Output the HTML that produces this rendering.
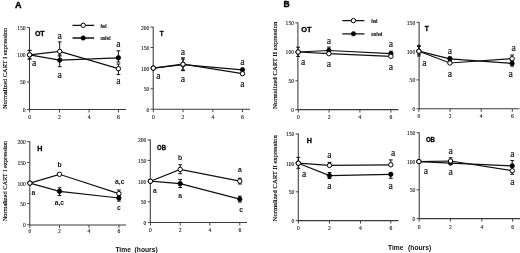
<!DOCTYPE html><html><head><meta charset="utf-8"><style>html,body{margin:0;padding:0;background:#fff;}svg{display:block;will-change:transform;}</style></head><body>
<svg width="520" height="253" viewBox="0 0 520 253">
<rect width="520" height="253" fill="#fff"/>
<g><path d="M29.5 27.2V109.5H126" fill="none" stroke="#3a3a3a" stroke-width="1.05"/><path d="M26.9 27.4H29.5" stroke="#444" stroke-width="1"/><text x="25.6" y="29.8" font-family='"Liberation Serif", serif' font-size="5.6" text-anchor="end" fill="#222" stroke="#222" stroke-width="0.12">150</text><path d="M26.9 54.7H29.5" stroke="#444" stroke-width="1"/><text x="25.6" y="57.1" font-family='"Liberation Serif", serif' font-size="5.6" text-anchor="end" fill="#222" stroke="#222" stroke-width="0.12">100</text><path d="M26.9 82H29.5" stroke="#444" stroke-width="1"/><text x="25.6" y="84.4" font-family='"Liberation Serif", serif' font-size="5.6" text-anchor="end" fill="#222" stroke="#222" stroke-width="0.12">50</text><path d="M26.9 109.4H29.5" stroke="#444" stroke-width="1"/><text x="25.6" y="111.8" font-family='"Liberation Serif", serif' font-size="5.6" text-anchor="end" fill="#222" stroke="#222" stroke-width="0.12">0</text><path d="M29.6 109.5V112.5" stroke="#444" stroke-width="1"/><text x="29.6" y="119.2" font-family='"Liberation Serif", serif' font-size="5.6" text-anchor="middle" fill="#222" stroke="#222" stroke-width="0.12">0</text><path d="M59.5 109.5V112.5" stroke="#444" stroke-width="1"/><text x="59.5" y="119.2" font-family='"Liberation Serif", serif' font-size="5.6" text-anchor="middle" fill="#222" stroke="#222" stroke-width="0.12">2</text><path d="M89.1 109.5V112.5" stroke="#444" stroke-width="1"/><text x="89.1" y="119.2" font-family='"Liberation Serif", serif' font-size="5.6" text-anchor="middle" fill="#222" stroke="#222" stroke-width="0.12">4</text><path d="M118.4 109.5V112.5" stroke="#444" stroke-width="1"/><text x="118.4" y="119.2" font-family='"Liberation Serif", serif' font-size="5.6" text-anchor="middle" fill="#222" stroke="#222" stroke-width="0.12">6</text><path d="M29.6 50.4V59M27.7 50.4H31.5M27.7 59H31.5" stroke="#111" stroke-width="1"/><path d="M59.7 41.9V56M57.8 41.9H61.6M57.8 56H61.6" stroke="#111" stroke-width="1"/><path d="M118.4 64V74.6M116.5 64H120.3M116.5 74.6H120.3" stroke="#111" stroke-width="1"/><path d="M29.6 50.4V59M27.7 50.4H31.5M27.7 59H31.5" stroke="#111" stroke-width="1"/><path d="M59.7 55V66.7M57.8 55H61.6M57.8 66.7H61.6" stroke="#111" stroke-width="1"/><path d="M118.4 50.8V62M116.5 50.8H120.3M116.5 62H120.3" stroke="#111" stroke-width="1"/><path d="M29.6 54.8 L59.7 60.1 L118.4 57.8" fill="none" stroke="#111" stroke-width="1.2"/><path d="M29.6 54.8 L59.7 51.4 L118.4 68.7" fill="none" stroke="#111" stroke-width="1.2"/><circle cx="29.6" cy="54.8" r="2.2" fill="#000" stroke="#000" stroke-width="0.8"/><circle cx="59.7" cy="60.1" r="2.2" fill="#000" stroke="#000" stroke-width="0.8"/><circle cx="118.4" cy="57.8" r="2.2" fill="#000" stroke="#000" stroke-width="0.8"/><circle cx="29.6" cy="54.8" r="2.2" fill="#fff" stroke="#000" stroke-width="1"/><circle cx="59.7" cy="51.4" r="2.2" fill="#fff" stroke="#000" stroke-width="1"/><circle cx="118.4" cy="68.7" r="2.2" fill="#fff" stroke="#000" stroke-width="1"/><text x="34.2" y="66.4" font-family='"Liberation Serif", serif' font-size="9.8" font-weight="normal" text-anchor="middle" fill="#222" stroke="#222" stroke-width="0.18">a</text><text x="59.8" y="38.8" font-family='"Liberation Serif", serif' font-size="9.8" font-weight="normal" text-anchor="middle" fill="#222" stroke="#222" stroke-width="0.18">a</text><text x="59.8" y="77.7" font-family='"Liberation Serif", serif' font-size="9.8" font-weight="normal" text-anchor="middle" fill="#222" stroke="#222" stroke-width="0.18">a</text><text x="118.4" y="47.3" font-family='"Liberation Serif", serif' font-size="9.8" font-weight="normal" text-anchor="middle" fill="#222" stroke="#222" stroke-width="0.18">a</text><text x="118.4" y="84" font-family='"Liberation Serif", serif' font-size="9.8" font-weight="normal" text-anchor="middle" fill="#222" stroke="#222" stroke-width="0.18">a</text><text x="34.9" y="36.1" font-family='"Liberation Sans", sans-serif' font-weight="bold" font-size="7" fill="#000" stroke="#000" stroke-width="0.3">OT</text></g>
<g><path d="M153.2 26.8V109.2H250" fill="none" stroke="#3a3a3a" stroke-width="1.05"/><path d="M150.6 27.1H153.2" stroke="#444" stroke-width="1"/><text x="149.3" y="29.5" font-family='"Liberation Serif", serif' font-size="5.6" text-anchor="end" fill="#222" stroke="#222" stroke-width="0.12">200</text><path d="M150.6 47.5H153.2" stroke="#444" stroke-width="1"/><text x="149.3" y="49.9" font-family='"Liberation Serif", serif' font-size="5.6" text-anchor="end" fill="#222" stroke="#222" stroke-width="0.12">150</text><path d="M150.6 68.1H153.2" stroke="#444" stroke-width="1"/><text x="149.3" y="70.5" font-family='"Liberation Serif", serif' font-size="5.6" text-anchor="end" fill="#222" stroke="#222" stroke-width="0.12">100</text><path d="M150.6 88.8H153.2" stroke="#444" stroke-width="1"/><text x="149.3" y="91.2" font-family='"Liberation Serif", serif' font-size="5.6" text-anchor="end" fill="#222" stroke="#222" stroke-width="0.12">50</text><path d="M150.6 109.2H153.2" stroke="#444" stroke-width="1"/><text x="149.3" y="111.6" font-family='"Liberation Serif", serif' font-size="5.6" text-anchor="end" fill="#222" stroke="#222" stroke-width="0.12">0</text><path d="M153.3 109.2V112.2" stroke="#444" stroke-width="1"/><text x="153.3" y="119" font-family='"Liberation Serif", serif' font-size="5.6" text-anchor="middle" fill="#222" stroke="#222" stroke-width="0.12">0</text><path d="M183 109.2V112.2" stroke="#444" stroke-width="1"/><text x="183" y="119" font-family='"Liberation Serif", serif' font-size="5.6" text-anchor="middle" fill="#222" stroke="#222" stroke-width="0.12">2</text><path d="M212.9 109.2V112.2" stroke="#444" stroke-width="1"/><text x="212.9" y="119" font-family='"Liberation Serif", serif' font-size="5.6" text-anchor="middle" fill="#222" stroke="#222" stroke-width="0.12">4</text><path d="M242.5 109.2V112.2" stroke="#444" stroke-width="1"/><text x="242.5" y="119" font-family='"Liberation Serif", serif' font-size="5.6" text-anchor="middle" fill="#222" stroke="#222" stroke-width="0.12">6</text><path d="M183 57.8V70.7M181.1 57.8H184.9M181.1 70.7H184.9" stroke="#111" stroke-width="1"/><path d="M183 59V70M181.1 59H184.9M181.1 70H184.9" stroke="#111" stroke-width="1"/><path d="M153.3 68.1 L183 64.6 L242.5 69.8" fill="none" stroke="#111" stroke-width="1.2"/><path d="M153.3 68.1 L183 64.2 L242.5 73.7" fill="none" stroke="#111" stroke-width="1.2"/><circle cx="153.3" cy="68.1" r="2.2" fill="#000" stroke="#000" stroke-width="0.8"/><circle cx="183" cy="64.6" r="2.2" fill="#000" stroke="#000" stroke-width="0.8"/><circle cx="242.5" cy="69.8" r="2.2" fill="#000" stroke="#000" stroke-width="0.8"/><circle cx="153.3" cy="68.1" r="2.2" fill="#fff" stroke="#000" stroke-width="1"/><circle cx="183" cy="64.2" r="2.2" fill="#fff" stroke="#000" stroke-width="1"/><circle cx="242.5" cy="73.7" r="2.2" fill="#fff" stroke="#000" stroke-width="1"/><text x="158.4" y="78.6" font-family='"Liberation Serif", serif' font-size="9.8" font-weight="normal" text-anchor="middle" fill="#222" stroke="#222" stroke-width="0.18">a</text><text x="183" y="54.9" font-family='"Liberation Serif", serif' font-size="9.8" font-weight="normal" text-anchor="middle" fill="#222" stroke="#222" stroke-width="0.18">a</text><text x="183" y="82" font-family='"Liberation Serif", serif' font-size="9.8" font-weight="normal" text-anchor="middle" fill="#222" stroke="#222" stroke-width="0.18">a</text><text x="242.5" y="64.9" font-family='"Liberation Serif", serif' font-size="9.8" font-weight="normal" text-anchor="middle" fill="#222" stroke="#222" stroke-width="0.18">a</text><text x="242.5" y="86.5" font-family='"Liberation Serif", serif' font-size="9.8" font-weight="normal" text-anchor="middle" fill="#222" stroke="#222" stroke-width="0.18">a</text><text x="159.7" y="35.7" font-family='"Liberation Sans", sans-serif' font-weight="bold" font-size="6.3" fill="#000" stroke="#000" stroke-width="0.3">T</text></g>
<g><path d="M29.8 141.4V225H126" fill="none" stroke="#3a3a3a" stroke-width="1.05"/><path d="M27.2 141.6H29.8" stroke="#444" stroke-width="1"/><text x="25.9" y="144" font-family='"Liberation Serif", serif' font-size="5.6" text-anchor="end" fill="#222" stroke="#222" stroke-width="0.12">200</text><path d="M27.2 162.4H29.8" stroke="#444" stroke-width="1"/><text x="25.9" y="164.8" font-family='"Liberation Serif", serif' font-size="5.6" text-anchor="end" fill="#222" stroke="#222" stroke-width="0.12">150</text><path d="M27.2 183.1H29.8" stroke="#444" stroke-width="1"/><text x="25.9" y="185.5" font-family='"Liberation Serif", serif' font-size="5.6" text-anchor="end" fill="#222" stroke="#222" stroke-width="0.12">100</text><path d="M27.2 203.5H29.8" stroke="#444" stroke-width="1"/><text x="25.9" y="205.9" font-family='"Liberation Serif", serif' font-size="5.6" text-anchor="end" fill="#222" stroke="#222" stroke-width="0.12">50</text><path d="M27.2 224.8H29.8" stroke="#444" stroke-width="1"/><text x="25.9" y="227.2" font-family='"Liberation Serif", serif' font-size="5.6" text-anchor="end" fill="#222" stroke="#222" stroke-width="0.12">0</text><path d="M29.9 225V228" stroke="#444" stroke-width="1"/><text x="29.9" y="233.4" font-family='"Liberation Serif", serif' font-size="5.6" text-anchor="middle" fill="#222" stroke="#222" stroke-width="0.12">0</text><path d="M59.5 225V228" stroke="#444" stroke-width="1"/><text x="59.5" y="233.4" font-family='"Liberation Serif", serif' font-size="5.6" text-anchor="middle" fill="#222" stroke="#222" stroke-width="0.12">2</text><path d="M89 225V228" stroke="#444" stroke-width="1"/><text x="89" y="233.4" font-family='"Liberation Serif", serif' font-size="5.6" text-anchor="middle" fill="#222" stroke="#222" stroke-width="0.12">4</text><path d="M118.9 225V228" stroke="#444" stroke-width="1"/><text x="118.9" y="233.4" font-family='"Liberation Serif", serif' font-size="5.6" text-anchor="middle" fill="#222" stroke="#222" stroke-width="0.12">6</text><path d="M118.9 190V196M117 190H120.8M117 196H120.8" stroke="#111" stroke-width="1"/><path d="M59.5 187.8V195.6M57.6 187.8H61.4M57.6 195.6H61.4" stroke="#111" stroke-width="1"/><path d="M118.9 195V201.1M117 195H120.8M117 201.1H120.8" stroke="#111" stroke-width="1"/><path d="M29.9 183.1 L59.5 191.3 L118.9 198" fill="none" stroke="#111" stroke-width="1.2"/><path d="M29.9 183.1 L59.5 174.3 L118.9 193.6" fill="none" stroke="#111" stroke-width="1.2"/><circle cx="29.9" cy="183.1" r="2.2" fill="#000" stroke="#000" stroke-width="0.8"/><circle cx="59.5" cy="191.3" r="2.2" fill="#000" stroke="#000" stroke-width="0.8"/><circle cx="118.9" cy="198" r="2.2" fill="#000" stroke="#000" stroke-width="0.8"/><circle cx="29.9" cy="183.1" r="2.2" fill="#fff" stroke="#000" stroke-width="1"/><circle cx="59.5" cy="174.3" r="2.2" fill="#fff" stroke="#000" stroke-width="1"/><circle cx="118.9" cy="193.6" r="2.2" fill="#fff" stroke="#000" stroke-width="1"/><text x="33.3" y="194.6" font-family='"Liberation Sans", sans-serif' font-size="6.8" font-weight="bold" text-anchor="middle" fill="#111">a</text><text x="59.5" y="167.2" font-family='"Liberation Sans", sans-serif' font-size="6.8" font-weight="bold" text-anchor="middle" fill="#111">b</text><text x="59.4" y="205.3" font-family='"Liberation Sans", sans-serif' font-size="6.8" font-weight="bold" text-anchor="middle" fill="#111">a,c</text><text x="119.8" y="184.1" font-family='"Liberation Sans", sans-serif' font-size="6.8" font-weight="bold" text-anchor="middle" fill="#111">a,c</text><text x="118.9" y="209.9" font-family='"Liberation Sans", sans-serif' font-size="6.8" font-weight="bold" text-anchor="middle" fill="#111">c</text><text x="37.2" y="151.2" font-family='"Liberation Sans", sans-serif' font-weight="bold" font-size="7.2" fill="#000" stroke="#000" stroke-width="0.3">H</text></g>
<g><path d="M150.3 139.6V222.5H247" fill="none" stroke="#3a3a3a" stroke-width="1.05"/><path d="M147.7 140H150.3" stroke="#444" stroke-width="1"/><text x="146.4" y="142.4" font-family='"Liberation Serif", serif' font-size="5.6" text-anchor="end" fill="#222" stroke="#222" stroke-width="0.12">200</text><path d="M147.7 160.4H150.3" stroke="#444" stroke-width="1"/><text x="146.4" y="162.8" font-family='"Liberation Serif", serif' font-size="5.6" text-anchor="end" fill="#222" stroke="#222" stroke-width="0.12">150</text><path d="M147.7 181.2H150.3" stroke="#444" stroke-width="1"/><text x="146.4" y="183.6" font-family='"Liberation Serif", serif' font-size="5.6" text-anchor="end" fill="#222" stroke="#222" stroke-width="0.12">100</text><path d="M147.7 201.8H150.3" stroke="#444" stroke-width="1"/><text x="146.4" y="204.2" font-family='"Liberation Serif", serif' font-size="5.6" text-anchor="end" fill="#222" stroke="#222" stroke-width="0.12">50</text><path d="M147.7 222.4H150.3" stroke="#444" stroke-width="1"/><text x="146.4" y="224.8" font-family='"Liberation Serif", serif' font-size="5.6" text-anchor="end" fill="#222" stroke="#222" stroke-width="0.12">0</text><path d="M150.4 222.5V225.5" stroke="#444" stroke-width="1"/><text x="150.4" y="231.8" font-family='"Liberation Serif", serif' font-size="5.6" text-anchor="middle" fill="#222" stroke="#222" stroke-width="0.12">0</text><path d="M180.2 222.5V225.5" stroke="#444" stroke-width="1"/><text x="180.2" y="231.8" font-family='"Liberation Serif", serif' font-size="5.6" text-anchor="middle" fill="#222" stroke="#222" stroke-width="0.12">2</text><path d="M209.8 222.5V225.5" stroke="#444" stroke-width="1"/><text x="209.8" y="231.8" font-family='"Liberation Serif", serif' font-size="5.6" text-anchor="middle" fill="#222" stroke="#222" stroke-width="0.12">4</text><path d="M239.8 222.5V225.5" stroke="#444" stroke-width="1"/><text x="239.8" y="231.8" font-family='"Liberation Serif", serif' font-size="5.6" text-anchor="middle" fill="#222" stroke="#222" stroke-width="0.12">6</text><path d="M180.2 164.8V173.7M178.3 164.8H182.1M178.3 173.7H182.1" stroke="#111" stroke-width="1"/><path d="M239.8 178.2V184M237.9 178.2H241.7M237.9 184H241.7" stroke="#111" stroke-width="1"/><path d="M180.2 179.6V187.5M178.3 179.6H182.1M178.3 187.5H182.1" stroke="#111" stroke-width="1"/><path d="M239.8 196.2V202M237.9 196.2H241.7M237.9 202H241.7" stroke="#111" stroke-width="1"/><path d="M150.4 181.2 L180.2 183.6 L239.8 199.1" fill="none" stroke="#111" stroke-width="1.2"/><path d="M150.4 181.2 L180.2 169.4 L239.8 181.1" fill="none" stroke="#111" stroke-width="1.2"/><circle cx="150.4" cy="181.2" r="2.2" fill="#000" stroke="#000" stroke-width="0.8"/><circle cx="180.2" cy="183.6" r="2.2" fill="#000" stroke="#000" stroke-width="0.8"/><circle cx="239.8" cy="199.1" r="2.2" fill="#000" stroke="#000" stroke-width="0.8"/><circle cx="150.4" cy="181.2" r="2.2" fill="#fff" stroke="#000" stroke-width="1"/><circle cx="180.2" cy="169.4" r="2.2" fill="#fff" stroke="#000" stroke-width="1"/><circle cx="239.8" cy="181.1" r="2.2" fill="#fff" stroke="#000" stroke-width="1"/><text x="154.9" y="192.5" font-family='"Liberation Sans", sans-serif' font-size="6.8" font-weight="bold" text-anchor="middle" fill="#111">a</text><text x="180.2" y="160.3" font-family='"Liberation Sans", sans-serif' font-size="6.8" font-weight="bold" text-anchor="middle" fill="#111">b</text><text x="180.2" y="197.5" font-family='"Liberation Sans", sans-serif' font-size="6.8" font-weight="bold" text-anchor="middle" fill="#111">a</text><text x="239.8" y="172.4" font-family='"Liberation Sans", sans-serif' font-size="6.8" font-weight="bold" text-anchor="middle" fill="#111">a</text><text x="241.2" y="212" font-family='"Liberation Sans", sans-serif' font-size="6.8" font-weight="bold" text-anchor="middle" fill="#111">c</text><text x="157" y="149.8" font-family='"Liberation Sans", sans-serif' font-weight="bold" font-size="7" fill="#000" stroke="#000" stroke-width="0.3" textLength="9.0" lengthAdjust="spacingAndGlyphs">OB</text></g>
<g><path d="M297.9 22.5V109.6H398.5" fill="none" stroke="#3a3a3a" stroke-width="1.05"/><path d="M295.3 22.9H297.9" stroke="#444" stroke-width="1"/><text x="294" y="25.3" font-family='"Liberation Serif", serif' font-size="5.6" text-anchor="end" fill="#222" stroke="#222" stroke-width="0.12">150</text><path d="M295.3 52H297.9" stroke="#444" stroke-width="1"/><text x="294" y="54.4" font-family='"Liberation Serif", serif' font-size="5.6" text-anchor="end" fill="#222" stroke="#222" stroke-width="0.12">100</text><path d="M295.3 80.8H297.9" stroke="#444" stroke-width="1"/><text x="294" y="83.2" font-family='"Liberation Serif", serif' font-size="5.6" text-anchor="end" fill="#222" stroke="#222" stroke-width="0.12">50</text><path d="M295.3 109.6H297.9" stroke="#444" stroke-width="1"/><text x="294" y="112" font-family='"Liberation Serif", serif' font-size="5.6" text-anchor="end" fill="#222" stroke="#222" stroke-width="0.12">0</text><path d="M298.3 109.6V112.6" stroke="#444" stroke-width="1"/><text x="298.3" y="119" font-family='"Liberation Serif", serif' font-size="5.6" text-anchor="middle" fill="#222" stroke="#222" stroke-width="0.12">0</text><path d="M329.1 109.6V112.6" stroke="#444" stroke-width="1"/><text x="329.1" y="119" font-family='"Liberation Serif", serif' font-size="5.6" text-anchor="middle" fill="#222" stroke="#222" stroke-width="0.12">2</text><path d="M359.9 109.6V112.6" stroke="#444" stroke-width="1"/><text x="359.9" y="119" font-family='"Liberation Serif", serif' font-size="5.6" text-anchor="middle" fill="#222" stroke="#222" stroke-width="0.12">4</text><path d="M390.9 109.6V112.6" stroke="#444" stroke-width="1"/><text x="390.9" y="119" font-family='"Liberation Serif", serif' font-size="5.6" text-anchor="middle" fill="#222" stroke="#222" stroke-width="0.12">6</text><path d="M298.1 47.2V56.4M296.2 47.2H300M296.2 56.4H300" stroke="#111" stroke-width="1"/><path d="M328.9 47.1V54M327 47.1H330.8M327 54H330.8" stroke="#111" stroke-width="1"/><path d="M390.9 51.2V56M389 51.2H392.8M389 56H392.8" stroke="#111" stroke-width="1"/><path d="M298.1 52 L328.9 50.5 L390.9 53.6" fill="none" stroke="#111" stroke-width="1.2"/><path d="M298.1 52 L328.9 53.7 L390.9 56.3" fill="none" stroke="#111" stroke-width="1.2"/><circle cx="298.1" cy="52" r="2.2" fill="#000" stroke="#000" stroke-width="0.8"/><circle cx="328.9" cy="50.5" r="2.2" fill="#000" stroke="#000" stroke-width="0.8"/><circle cx="390.9" cy="53.6" r="2.2" fill="#000" stroke="#000" stroke-width="0.8"/><circle cx="298.1" cy="52" r="2.2" fill="#fff" stroke="#000" stroke-width="1"/><circle cx="328.9" cy="53.7" r="2.2" fill="#fff" stroke="#000" stroke-width="1"/><circle cx="390.9" cy="56.3" r="2.2" fill="#fff" stroke="#000" stroke-width="1"/><text x="303.2" y="64.5" font-family='"Liberation Serif", serif' font-size="9.8" font-weight="normal" text-anchor="middle" fill="#222" stroke="#222" stroke-width="0.18">a</text><text x="328.9" y="43.5" font-family='"Liberation Serif", serif' font-size="9.8" font-weight="normal" text-anchor="middle" fill="#222" stroke="#222" stroke-width="0.18">a</text><text x="328.9" y="66.5" font-family='"Liberation Serif", serif' font-size="9.8" font-weight="normal" text-anchor="middle" fill="#222" stroke="#222" stroke-width="0.18">a</text><text x="390.9" y="46.8" font-family='"Liberation Serif", serif' font-size="9.8" font-weight="normal" text-anchor="middle" fill="#222" stroke="#222" stroke-width="0.18">a</text><text x="390.9" y="69.7" font-family='"Liberation Serif", serif' font-size="9.8" font-weight="normal" text-anchor="middle" fill="#222" stroke="#222" stroke-width="0.18">a</text><text x="301.3" y="32" font-family='"Liberation Sans", sans-serif' font-weight="bold" font-size="7.4" fill="#000" stroke="#000" stroke-width="0.3">OT</text></g>
<g><path d="M419.1 21.9V108.8H519.5" fill="none" stroke="#3a3a3a" stroke-width="1.05"/><path d="M416.5 22.3H419.1" stroke="#444" stroke-width="1"/><text x="415.2" y="24.7" font-family='"Liberation Serif", serif' font-size="5.6" text-anchor="end" fill="#222" stroke="#222" stroke-width="0.12">150</text><path d="M416.5 51.1H419.1" stroke="#444" stroke-width="1"/><text x="415.2" y="53.5" font-family='"Liberation Serif", serif' font-size="5.6" text-anchor="end" fill="#222" stroke="#222" stroke-width="0.12">100</text><path d="M416.5 79.9H419.1" stroke="#444" stroke-width="1"/><text x="415.2" y="82.3" font-family='"Liberation Serif", serif' font-size="5.6" text-anchor="end" fill="#222" stroke="#222" stroke-width="0.12">50</text><path d="M416.5 108.8H419.1" stroke="#444" stroke-width="1"/><text x="415.2" y="111.2" font-family='"Liberation Serif", serif' font-size="5.6" text-anchor="end" fill="#222" stroke="#222" stroke-width="0.12">0</text><path d="M418.9 108.8V111.8" stroke="#444" stroke-width="1"/><text x="418.9" y="118.1" font-family='"Liberation Serif", serif' font-size="5.6" text-anchor="middle" fill="#222" stroke="#222" stroke-width="0.12">0</text><path d="M450.1 108.8V111.8" stroke="#444" stroke-width="1"/><text x="450.1" y="118.1" font-family='"Liberation Serif", serif' font-size="5.6" text-anchor="middle" fill="#222" stroke="#222" stroke-width="0.12">2</text><path d="M481.2 108.8V111.8" stroke="#444" stroke-width="1"/><text x="481.2" y="118.1" font-family='"Liberation Serif", serif' font-size="5.6" text-anchor="middle" fill="#222" stroke="#222" stroke-width="0.12">4</text><path d="M512.3 108.8V111.8" stroke="#444" stroke-width="1"/><text x="512.3" y="118.1" font-family='"Liberation Serif", serif' font-size="5.6" text-anchor="middle" fill="#222" stroke="#222" stroke-width="0.12">6</text><path d="M418.9 45.3V56M417 45.3H420.8M417 56H420.8" stroke="#111" stroke-width="1"/><path d="M512.1 55V60M510.2 55H514M510.2 60H514" stroke="#111" stroke-width="1"/><path d="M418.9 46.5V54.2M417 46.5H420.8M417 54.2H420.8" stroke="#111" stroke-width="1"/><path d="M449.9 57V61M448 57H451.8M448 61H451.8" stroke="#111" stroke-width="1"/><path d="M512.1 61V66.1M510.2 61H514M510.2 66.1H514" stroke="#111" stroke-width="1"/><path d="M418.9 51.2 L449.9 58.8 L512.1 63.4" fill="none" stroke="#111" stroke-width="1.2"/><path d="M418.9 51.2 L449.9 63 L512.1 58.7" fill="none" stroke="#111" stroke-width="1.2"/><circle cx="418.9" cy="51.2" r="2.2" fill="#000" stroke="#000" stroke-width="0.8"/><circle cx="449.9" cy="58.8" r="2.2" fill="#000" stroke="#000" stroke-width="0.8"/><circle cx="512.1" cy="63.4" r="2.2" fill="#000" stroke="#000" stroke-width="0.8"/><circle cx="418.9" cy="51.2" r="2.2" fill="#fff" stroke="#000" stroke-width="1"/><circle cx="449.9" cy="63" r="2.2" fill="#fff" stroke="#000" stroke-width="1"/><circle cx="512.1" cy="58.7" r="2.2" fill="#fff" stroke="#000" stroke-width="1"/><text x="424.4" y="65.8" font-family='"Liberation Serif", serif' font-size="9.8" font-weight="normal" text-anchor="middle" fill="#222" stroke="#222" stroke-width="0.18">a</text><text x="450" y="53.8" font-family='"Liberation Serif", serif' font-size="9.8" font-weight="normal" text-anchor="middle" fill="#222" stroke="#222" stroke-width="0.18">a</text><text x="450" y="76.6" font-family='"Liberation Serif", serif' font-size="9.8" font-weight="normal" text-anchor="middle" fill="#222" stroke="#222" stroke-width="0.18">a</text><text x="513.7" y="50.6" font-family='"Liberation Serif", serif' font-size="9.8" font-weight="normal" text-anchor="middle" fill="#222" stroke="#222" stroke-width="0.18">a</text><text x="510.8" y="77" font-family='"Liberation Serif", serif' font-size="9.8" font-weight="normal" text-anchor="middle" fill="#222" stroke="#222" stroke-width="0.18">a</text><text x="424.8" y="30.8" font-family='"Liberation Sans", sans-serif' font-weight="bold" font-size="6.6" fill="#000" stroke="#000" stroke-width="0.3">T</text></g>
<g><path d="M298.3 133.5V220.6H398.5" fill="none" stroke="#3a3a3a" stroke-width="1.05"/><path d="M295.7 134H298.3" stroke="#444" stroke-width="1"/><text x="294.4" y="136.4" font-family='"Liberation Serif", serif' font-size="5.6" text-anchor="end" fill="#222" stroke="#222" stroke-width="0.12">150</text><path d="M295.7 163.2H298.3" stroke="#444" stroke-width="1"/><text x="294.4" y="165.6" font-family='"Liberation Serif", serif' font-size="5.6" text-anchor="end" fill="#222" stroke="#222" stroke-width="0.12">100</text><path d="M295.7 191.8H298.3" stroke="#444" stroke-width="1"/><text x="294.4" y="194.2" font-family='"Liberation Serif", serif' font-size="5.6" text-anchor="end" fill="#222" stroke="#222" stroke-width="0.12">50</text><path d="M295.7 220.6H298.3" stroke="#444" stroke-width="1"/><text x="294.4" y="223" font-family='"Liberation Serif", serif' font-size="5.6" text-anchor="end" fill="#222" stroke="#222" stroke-width="0.12">0</text><path d="M298.3 220.6V223.6" stroke="#444" stroke-width="1"/><text x="298.3" y="229.8" font-family='"Liberation Serif", serif' font-size="5.6" text-anchor="middle" fill="#222" stroke="#222" stroke-width="0.12">0</text><path d="M329.5 220.6V223.6" stroke="#444" stroke-width="1"/><text x="329.5" y="229.8" font-family='"Liberation Serif", serif' font-size="5.6" text-anchor="middle" fill="#222" stroke="#222" stroke-width="0.12">2</text><path d="M360.5 220.6V223.6" stroke="#444" stroke-width="1"/><text x="360.5" y="229.8" font-family='"Liberation Serif", serif' font-size="5.6" text-anchor="middle" fill="#222" stroke="#222" stroke-width="0.12">4</text><path d="M390.8 220.6V223.6" stroke="#444" stroke-width="1"/><text x="390.8" y="229.8" font-family='"Liberation Serif", serif' font-size="5.6" text-anchor="middle" fill="#222" stroke="#222" stroke-width="0.12">6</text><path d="M298.3 157.3V168.3M296.4 157.3H300.2M296.4 168.3H300.2" stroke="#111" stroke-width="1"/><path d="M329.5 162.4V166M327.6 162.4H331.4M327.6 166H331.4" stroke="#111" stroke-width="1"/><path d="M390.8 159.9V165M388.9 159.9H392.7M388.9 165H392.7" stroke="#111" stroke-width="1"/><path d="M329.5 172.5V178.5M327.6 172.5H331.4M327.6 178.5H331.4" stroke="#111" stroke-width="1"/><path d="M390.8 174V178.3M388.9 174H392.7M388.9 178.3H392.7" stroke="#111" stroke-width="1"/><path d="M298.3 163.2 L329.5 175.6 L390.8 174.3" fill="none" stroke="#111" stroke-width="1.2"/><path d="M298.3 163.2 L329.5 165.4 L390.8 164.8" fill="none" stroke="#111" stroke-width="1.2"/><circle cx="298.3" cy="163.2" r="2.2" fill="#000" stroke="#000" stroke-width="0.8"/><circle cx="329.5" cy="175.6" r="2.2" fill="#000" stroke="#000" stroke-width="0.8"/><circle cx="390.8" cy="174.3" r="2.2" fill="#000" stroke="#000" stroke-width="0.8"/><circle cx="298.3" cy="163.2" r="2.2" fill="#fff" stroke="#000" stroke-width="1"/><circle cx="329.5" cy="165.4" r="2.2" fill="#fff" stroke="#000" stroke-width="1"/><circle cx="390.8" cy="164.8" r="2.2" fill="#fff" stroke="#000" stroke-width="1"/><text x="304.2" y="176.7" font-family='"Liberation Serif", serif' font-size="9.8" font-weight="normal" text-anchor="middle" fill="#222" stroke="#222" stroke-width="0.18">a</text><text x="329.5" y="158.3" font-family='"Liberation Serif", serif' font-size="9.8" font-weight="normal" text-anchor="middle" fill="#222" stroke="#222" stroke-width="0.18">a</text><text x="329.5" y="188.5" font-family='"Liberation Serif", serif' font-size="9.8" font-weight="normal" text-anchor="middle" fill="#222" stroke="#222" stroke-width="0.18">a</text><text x="393.3" y="156.3" font-family='"Liberation Serif", serif' font-size="9.8" font-weight="normal" text-anchor="middle" fill="#222" stroke="#222" stroke-width="0.18">a</text><text x="390.8" y="188.6" font-family='"Liberation Serif", serif' font-size="9.8" font-weight="normal" text-anchor="middle" fill="#222" stroke="#222" stroke-width="0.18">a</text><text x="306.8" y="142.5" font-family='"Liberation Sans", sans-serif' font-weight="bold" font-size="7.2" fill="#000" stroke="#000" stroke-width="0.3">H</text></g>
<g><path d="M419.2 132.3V218.6H520" fill="none" stroke="#3a3a3a" stroke-width="1.05"/><path d="M416.6 132.7H419.2" stroke="#444" stroke-width="1"/><text x="415.3" y="135.1" font-family='"Liberation Serif", serif' font-size="5.6" text-anchor="end" fill="#222" stroke="#222" stroke-width="0.12">150</text><path d="M416.6 161.6H419.2" stroke="#444" stroke-width="1"/><text x="415.3" y="164" font-family='"Liberation Serif", serif' font-size="5.6" text-anchor="end" fill="#222" stroke="#222" stroke-width="0.12">100</text><path d="M416.6 189.9H419.2" stroke="#444" stroke-width="1"/><text x="415.3" y="192.3" font-family='"Liberation Serif", serif' font-size="5.6" text-anchor="end" fill="#222" stroke="#222" stroke-width="0.12">50</text><path d="M416.6 218.6H419.2" stroke="#444" stroke-width="1"/><text x="415.3" y="221" font-family='"Liberation Serif", serif' font-size="5.6" text-anchor="end" fill="#222" stroke="#222" stroke-width="0.12">0</text><path d="M419.2 218.6V221.6" stroke="#444" stroke-width="1"/><text x="419.2" y="228.6" font-family='"Liberation Serif", serif' font-size="5.6" text-anchor="middle" fill="#222" stroke="#222" stroke-width="0.12">0</text><path d="M450.4 218.6V221.6" stroke="#444" stroke-width="1"/><text x="450.4" y="228.6" font-family='"Liberation Serif", serif' font-size="5.6" text-anchor="middle" fill="#222" stroke="#222" stroke-width="0.12">2</text><path d="M481.9 218.6V221.6" stroke="#444" stroke-width="1"/><text x="481.9" y="228.6" font-family='"Liberation Serif", serif' font-size="5.6" text-anchor="middle" fill="#222" stroke="#222" stroke-width="0.12">4</text><path d="M512.6 218.6V221.6" stroke="#444" stroke-width="1"/><text x="512.6" y="228.6" font-family='"Liberation Serif", serif' font-size="5.6" text-anchor="middle" fill="#222" stroke="#222" stroke-width="0.12">6</text><path d="M450.6 157.8V163M448.7 157.8H452.5M448.7 163H452.5" stroke="#111" stroke-width="1"/><path d="M512.2 166V174.3M510.3 166H514.1M510.3 174.3H514.1" stroke="#111" stroke-width="1"/><path d="M512.2 160.6V166M510.3 160.6H514.1M510.3 166H514.1" stroke="#111" stroke-width="1"/><path d="M418.9 161.6 L450.6 163.1 L512.2 165.9" fill="none" stroke="#111" stroke-width="1.2"/><path d="M418.9 161.6 L450.6 161 L512.2 170.7" fill="none" stroke="#111" stroke-width="1.2"/><circle cx="418.9" cy="161.6" r="2.2" fill="#000" stroke="#000" stroke-width="0.8"/><circle cx="450.6" cy="163.1" r="2.2" fill="#000" stroke="#000" stroke-width="0.8"/><circle cx="512.2" cy="165.9" r="2.2" fill="#000" stroke="#000" stroke-width="0.8"/><circle cx="418.9" cy="161.6" r="2.2" fill="#fff" stroke="#000" stroke-width="1"/><circle cx="450.6" cy="161" r="2.2" fill="#fff" stroke="#000" stroke-width="1"/><circle cx="512.2" cy="170.7" r="2.2" fill="#fff" stroke="#000" stroke-width="1"/><text x="426" y="173.6" font-family='"Liberation Serif", serif' font-size="9.8" font-weight="normal" text-anchor="middle" fill="#222" stroke="#222" stroke-width="0.18">a</text><text x="450.6" y="153.7" font-family='"Liberation Serif", serif' font-size="9.8" font-weight="normal" text-anchor="middle" fill="#222" stroke="#222" stroke-width="0.18">a</text><text x="450.6" y="175" font-family='"Liberation Serif", serif' font-size="9.8" font-weight="normal" text-anchor="middle" fill="#222" stroke="#222" stroke-width="0.18">a</text><text x="512.4" y="156.5" font-family='"Liberation Serif", serif' font-size="9.8" font-weight="normal" text-anchor="middle" fill="#222" stroke="#222" stroke-width="0.18">a</text><text x="512.4" y="185.2" font-family='"Liberation Serif", serif' font-size="9.8" font-weight="normal" text-anchor="middle" fill="#222" stroke="#222" stroke-width="0.18">a</text><text x="425.9" y="141.8" font-family='"Liberation Sans", sans-serif' font-weight="bold" font-size="6.8" fill="#000" stroke="#000" stroke-width="0.3" textLength="9.0" lengthAdjust="spacingAndGlyphs">OB</text></g>
<path d="M72.5 25.3H94.1M72.5 38.0H94.1" stroke="#111" stroke-width="1.3"/>
<circle cx="83.2" cy="25.3" r="2.2" fill="#fff" stroke="#000" stroke-width="1"/>
<circle cx="83.2" cy="38.0" r="2.2" fill="#000" stroke="#000" stroke-width="0.6"/>
<text x="100.4" y="27.5" font-family='"Liberation Serif", serif' font-weight="bold" font-size="5.4" textLength="6.3" lengthAdjust="spacingAndGlyphs" fill="#222" stroke="#222" stroke-width="0.12">fed</text>
<text x="100.4" y="40.2" font-family='"Liberation Serif", serif' font-weight="bold" font-size="5.4" textLength="10.2" lengthAdjust="spacingAndGlyphs" fill="#222" stroke="#222" stroke-width="0.12">unfed</text>
<path d="M342.3 20.6H364.4M342.3 33.8H364.4" stroke="#111" stroke-width="1.3"/>
<circle cx="353.4" cy="20.6" r="2.2" fill="#fff" stroke="#000" stroke-width="1"/>
<circle cx="353.4" cy="33.8" r="2.2" fill="#000" stroke="#000" stroke-width="0.6"/>
<text x="371.2" y="22.8" font-family='"Liberation Serif", serif' font-weight="bold" font-size="5.4" textLength="6.2" lengthAdjust="spacingAndGlyphs" fill="#222" stroke="#222" stroke-width="0.12">fed</text>
<text x="371.2" y="36.0" font-family='"Liberation Serif", serif' font-weight="bold" font-size="5.4" textLength="11.0" lengthAdjust="spacingAndGlyphs" fill="#222" stroke="#222" stroke-width="0.12">unfed</text>
<text x="14.9" y="7.7" font-family='"Liberation Sans", sans-serif' font-weight="bold" font-size="9" fill="#000" stroke="#000" stroke-width="0.4">A</text>
<text x="283.5" y="6.6" font-family='"Liberation Sans", sans-serif' font-weight="bold" font-size="8.5" fill="#000" stroke="#000" stroke-width="0.4">B</text>
<text transform="translate(7.3 109.1) rotate(-90)" x="0" y="0" font-family='"Liberation Serif", serif' font-size="6.93" textLength="81.3" lengthAdjust="spacingAndGlyphs" fill="#000" stroke="#000" stroke-width="0.15">Normalized CART I expression</text>
<text transform="translate(7.3 221.3) rotate(-90)" x="0" y="0" font-family='"Liberation Serif", serif' font-size="6.84" textLength="80.3" lengthAdjust="spacingAndGlyphs" fill="#000" stroke="#000" stroke-width="0.15">Normalized CART I expression</text>
<text transform="translate(277.3 109.0) rotate(-90)" x="0" y="0" font-family='"Liberation Serif", serif' font-size="7.05" textLength="87.4" lengthAdjust="spacingAndGlyphs" fill="#000" stroke="#000" stroke-width="0.15">Normalized CART II expression</text>
<text transform="translate(277.3 221.4) rotate(-90)" x="0" y="0" font-family='"Liberation Serif", serif' font-size="7.05" textLength="86.1" lengthAdjust="spacingAndGlyphs" fill="#000" stroke="#000" stroke-width="0.15">Normalized CART II expression</text>
<text x="115.4" y="251.6" font-family='"Liberation Sans", sans-serif' font-weight="bold" font-size="6.7" fill="#111">Time</text>
<text x="134.6" y="251.6" font-family='"Liberation Sans", sans-serif' font-weight="bold" font-size="6.7" fill="#111">(hours)</text>
<text x="388.0" y="250.3" font-family='"Liberation Sans", sans-serif' font-weight="bold" font-size="6.7" fill="#111">Time</text>
<text x="408.1" y="250.3" font-family='"Liberation Sans", sans-serif' font-weight="bold" font-size="6.7" fill="#111">(hours)</text>
</svg></body></html>
